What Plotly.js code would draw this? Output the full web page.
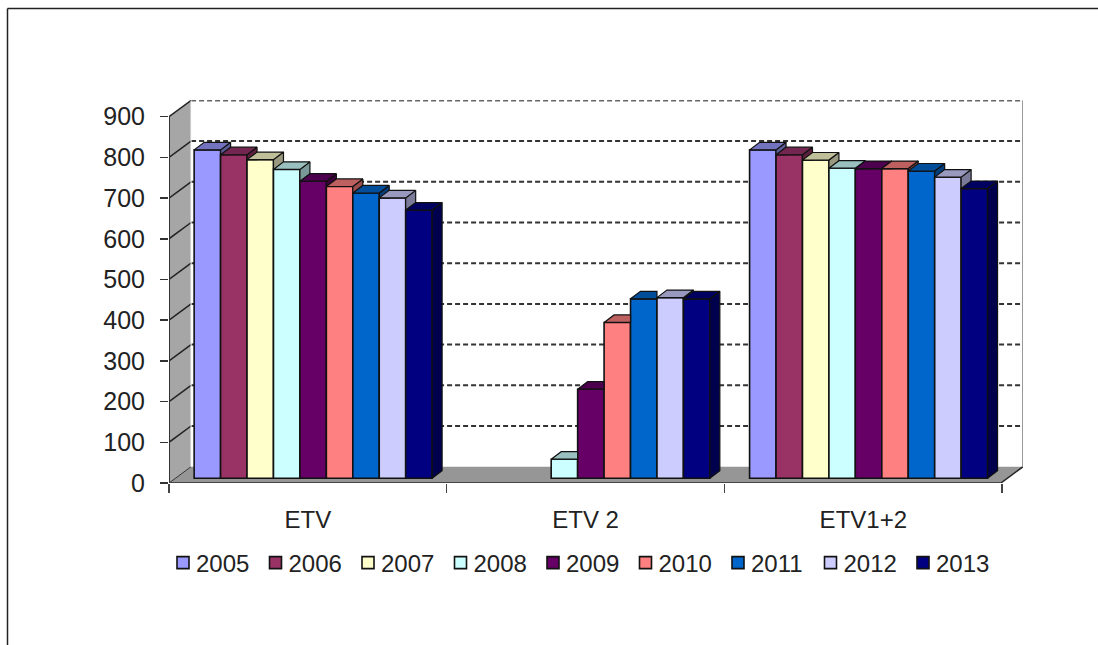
<!DOCTYPE html>
<html><head><meta charset="utf-8">
<script src="https://cdn.plot.ly/plotly-3.0.1.min.js"></script>
<style>html,body{margin:0;padding:0;background:#fff}</style>
</head><body><div id="chart" style="width:1098px;height:645px"></div>
<script>
const categories = ['ETV', 'ETV 2', 'ETV1+2'];
const years = ['2005','2006','2007','2008','2009','2010','2011','2012','2013'];
const v2005 = [807, null, 807];
const v2006 = [795, null, 795];
const v2007 = [783, null, 782];
const v2008 = [759, 47, 762];
const v2009 = [730, 219, 761];
const v2010 = [717, 383, 761];
const v2011 = [701, 441, 755];
const v2012 = [689, 444, 740];
const v2013 = [659, 441, 712];
const yTicks = [0,100,200,300,400,500,600,700,800,900];
const colors = ['#9999FF','#993366','#FFFFCC','#CCFFFF','#660066','#FF8080','#0066CC','#CCCCFF','#000080'];
const topColors = ['#7272BF','#732650','#BFBF99','#99BFBF','#4D004D','#BF6060','#004D99','#9999BF','#000060'];
const sideColors = ['#5C5C99','#5C1F3D','#999980','#7A9999','#3D003D','#994D4D','#003D7A','#7A7A99','#00004D'];
const series = [v2005,v2006,v2007,v2008,v2009,v2010,v2011,v2012,v2013];

// geometry of the fake 3D box, in axis units
const wallDx = 0.0795, wallDy = 40, xMin = -0.5, xMax = 2.575;
const barW = 0.0952, shift = 0.019, base = 11.5, dDx = 0.036, dDy = 18.5;
const edge = '#111';

const traces = [];
series.forEach((vals, s) => {
  traces.push({type:'bar', name:years[s], x:categories.map((_,c)=>c+shift), y:vals, base:vals.map(()=>base),
    marker:{color:colors[s], line:{color:edge,width:1.6}}, hoverinfo:'skip'});
});
series.forEach((vals, s) => {
  const tx=[], ty=[], sx=[], sy=[];
  vals.forEach((v,c) => {
    if (v===null) return;
    const l = c+shift-barW*4.5+s*barW, r = l+barW, t = v+base;
    const nv = s<series.length-1 ? series[s+1][c] : null;
    if (nv!==null && nv>v) {
      tx.push(l,r,r,l+dDx,l,null); ty.push(t,t,t+dDy,t+dDy,t,null);
    } else {
      tx.push(l,r,r+dDx,l+dDx,l,null); ty.push(t,t,t+dDy,t+dDy,t,null);
      const low = nv===null ? base : nv+base;
      const lowB = nv===null ? base+dDy : Math.max(low,base+dDy);
      sx.push(r,r+dDx,r+dDx,r,r,null); sy.push(t,t+dDy,lowB,low,t,null);
    }
  });
  traces.push({type:'scatter',mode:'lines',x:sx,y:sy,fill:'toself',fillcolor:sideColors[s],line:{color:edge,width:1.2},showlegend:false,hoverinfo:'skip'});
  traces.push({type:'scatter',mode:'lines',x:tx,y:ty,fill:'toself',fillcolor:topColors[s],line:{color:edge,width:1.2},showlegend:false,hoverinfo:'skip'});
});

const shapes = [];
const bx = xMin+wallDx;
shapes.push({type:'path',layer:'below',path:`M${xMin},0 L${bx},${wallDy} L${bx},${900+wallDy} L${xMin},900 Z`,fillcolor:'#A6A6A6',line:{width:0}});
shapes.push({type:'path',layer:'below',path:`M${xMin},0 L${xMax-wallDx},0 L${xMax},${wallDy} L${bx},${wallDy} Z`,fillcolor:'#969696',line:{width:0}});
yTicks.forEach(t => {
  if (t===0) return;
  shapes.push({type:'line',layer:'below',x0:xMin,x1:bx,y0:t,y1:t+wallDy,line:{color:'#222',width:1.5}});
  shapes.push({type:'line',layer:'below',x0:bx,x1:xMax,y0:t+wallDy,y1:t+wallDy,line:{color:t===900?'#666':'#333',width:2,dash:'5px,3px'}});
});
shapes.push({type:'line',layer:'below',x0:xMin,x1:bx,y0:0,y1:wallDy,line:{color:'#333',width:1}});
shapes.push({type:'line',layer:'below',x0:xMax-wallDx,x1:xMax,y0:0,y1:wallDy,line:{color:'#222',width:1.5}});
shapes.push({type:'line',layer:'below',x0:xMax,x1:xMax,y0:wallDy,y1:900+wallDy,line:{color:'#999',width:2}});
shapes.push({type:'line',layer:'below',x0:bx,x1:bx,y0:wallDy,y1:900+wallDy,line:{color:'#fff',width:1}});
shapes.push({type:'line',layer:'above',x0:xMin,x1:xMin,y0:0,y1:900,line:{color:'#333',width:2}});
shapes.push({type:'line',layer:'above',x0:xMin,x1:xMax-wallDx,y0:0,y1:0,line:{color:'#444',width:2}});
// outer frame of the picture (top and left only)
const px = p => (p-169)/854, py = p => (483-p)/383;
shapes.push({type:'line',xref:'paper',yref:'paper',x0:px(7.5),x1:px(1098),y0:py(8.5),y1:py(8.5),line:{color:'#222',width:1.5}});
shapes.push({type:'line',xref:'paper',yref:'paper',x0:px(7.5),x1:px(7.5),y0:py(8.5),y1:py(645),line:{color:'#222',width:1.5}});

const layout = {
  width:1098, height:645, paper_bgcolor:'#fff', plot_bgcolor:'#fff', showlegend:true,
  margin:{l:169,r:75,t:100,b:162,autoexpand:false},
  font:{family:'"Liberation Sans",Arial,sans-serif',color:'#222'},
  barmode:'group', bargap:0.143, bargroupgap:0,
  xaxis:{type:'linear',range:[xMin,xMax],tickmode:'array',tickvals:categories.map((_,i)=>i),ticktext:categories,
    ticks:'',showgrid:false,zeroline:false,showline:false,tickfont:{size:24},ticklabelstandoff:20,
    minor:{tickmode:'array',tickvals:[-0.5,0.5,1.5,2.5],ticks:'outside',ticklen:9,tickwidth:1.5,tickcolor:'#444',showgrid:false}},
  yaxis:{range:[0,941],tickmode:'array',tickvals:yTicks,ticktext:yTicks.map(String),ticks:'outside',ticklen:8,tickwidth:1.5,tickcolor:'#333',
    showgrid:false,zeroline:false,showline:false,tickfont:{size:25},ticklabelstandoff:10},
  legend:{orientation:'h',x:px(156),y:py(563),xanchor:'left',yanchor:'middle',font:{size:24},
    entrywidth:47.5,entrywidthmode:'pixels',traceorder:'normal',bgcolor:'rgba(0,0,0,0)'},
  shapes:shapes
};
Plotly.newPlot('chart',traces,layout,{displayModeBar:false,staticPlot:true}).then(()=>{
  document.querySelectorAll('.legendsymbols').forEach(g=>g.setAttribute('transform','translate(7,0)'));
  document.querySelectorAll('.legend .scrollbox').forEach(g=>g.removeAttribute('clip-path'));
  document.querySelectorAll('.legend').forEach(g=>g.style.overflow='visible');
});
</script></body></html>
